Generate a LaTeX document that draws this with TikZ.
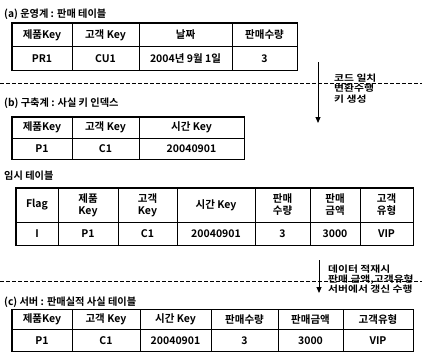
\documentclass[tikz,border=0pt]{standalone}
\usepackage{fontspec}
\setmainfont{Noto Sans CJK KR}[BoldFont={Noto Sans CJK KR Bold}]
\newfontfamily\krwide{Noto Sans CJK KR Bold}[FakeStretch=1.2]
\usetikzlibrary{arrows.meta}
\newcommand\tabfnt{\bfseries\fontsize{10.5}{12}\selectfont}
\newcommand\titfnt{\bfseries\fontsize{10.2}{12}\selectfont}
\newcommand\notefnt{\krwide\fontsize{9}{10.3}\selectfont}
\begin{document}
\begin{tikzpicture}[x=1pt,y=-1pt,
  cell/.style={draw,line width=0.7pt,inner sep=0pt,align=center,font=\tabfnt},
  frame/.style={line width=1.2pt},
  title/.style={anchor=west,inner sep=0pt,font=\titfnt},
  note/.style={anchor=west,inner sep=0pt,align=left,font=\notefnt},
  sep/.style={line width=0.8pt,dash pattern=on 3.5pt off 2.5pt},
  flow/.style={line width=1pt,-{Triangle[length=6pt,width=5pt]}}
]
\useasboundingbox[fill=white] (0,0) rectangle (422,356);

% (a)
\node[title] (ta) at (4,14) {(a) 운영계 : 판매 테이블};
\begin{scope}[every node/.append style={minimum height=23.5}]
\node[cell,minimum width=60] (a11) at (42,35) {제품Key};
\node[cell,minimum width=67] (a12) at (105.5,35) {고객 Key};
\node[cell,minimum width=93] (a13) at (185.5,35) {날짜};
\node[cell,minimum width=65] (a14) at (264.5,35) {판매수량};
\node[cell,minimum width=60] (a21) at (42,58.5) {PR1};
\node[cell,minimum width=67] (a22) at (105.5,58.5) {CU1};
\node[cell,minimum width=93] (a23) at (185.5,58.5) {2004년 9월 1일};
\node[cell,minimum width=65] (a24) at (264.5,58.5) {3};
\end{scope}
\draw[frame] (a11.north west) rectangle (a24.south east);

% separator 1 + arrow
\coordinate (s1l) at (0,83);
\coordinate (s1r) at (422,83);
\draw[sep] (s1l) -- (s1r);
\coordinate (f1s) at (318,62);
\coordinate (f1e) at (318,123);
\draw[flow] (f1s) -- (f1e);
\node[note] (n1) at (334,88.5) {코드 일치\\변환수행\\키 생성};

% (b)
\node[title] (tb) at (4,103) {(b) 구축계 : 사실 키 인덱스};
\begin{scope}[every node/.append style={minimum height=21}]
\node[cell,minimum width=60] (b11) at (42,127.5) {제품Key};
\node[cell,minimum width=67] (b12) at (105.5,127.5) {고객 Key};
\node[cell,minimum width=105] (b13) at (191.5,127.5) {시간 Key};
\node[cell,minimum width=60] (b21) at (42,148.5) {P1};
\node[cell,minimum width=67] (b22) at (105.5,148.5) {C1};
\node[cell,minimum width=105] (b23) at (191.5,148.5) {20040901};
\end{scope}
\draw[frame] (b11.north west) rectangle (b23.south east);

% temp table
\node[title] (tt) at (4,176) {임시 테이블};
\begin{scope}[every node/.append style={minimum height=34}]
\node[cell,minimum width=42] (t11) at (37,205) {Flag};
\node[cell,minimum width=60] (t12) at (88,205) {제품\\Key};
\node[cell,minimum width=59] (t13) at (147.5,205) {고객\\Key};
\node[cell,minimum width=78] (t14) at (216,205) {시간 Key};
\node[cell,minimum width=55] (t15) at (282.5,205) {판매\\수량};
\node[cell,minimum width=50] (t16) at (335,205) {판매\\금액};
\node[cell,minimum width=53] (t17) at (386.5,205) {고객\\유형};
\end{scope}
\begin{scope}[every node/.append style={minimum height=23}]
\node[cell,minimum width=42] (t21) at (37,233.5) {I};
\node[cell,minimum width=60] (t22) at (88,233.5) {P1};
\node[cell,minimum width=59] (t23) at (147.5,233.5) {C1};
\node[cell,minimum width=78] (t24) at (216,233.5) {20040901};
\node[cell,minimum width=55] (t25) at (282.5,233.5) {3};
\node[cell,minimum width=50] (t26) at (335,233.5) {3000};
\node[cell,minimum width=53] (t27) at (386.5,233.5) {VIP};
\end{scope}
\draw[frame] (t11.north west) rectangle (t27.south east);

% separator 2 + arrow
\coordinate (s2l) at (0,281);
\coordinate (s2r) at (422,281);
\draw[sep] (s2l) -- (s2r);
\coordinate (f2s) at (319,260);
\coordinate (f2e) at (319,293);
\draw[flow] (f2s) -- (f2e);
\node[note] (n2) at (328,279) {데이터 적재시\\판매 금액,고객유형\\서버에서 갱신 수행};

% (c)
\node[title] (tc) at (4,302) {(c) 서버 : 판매실적 사실 테이블};
\begin{scope}[every node/.append style={minimum height=20}]
\node[cell,minimum width=60] (c11) at (42,319.5) {제품Key};
\node[cell,minimum width=68] (c12) at (106,319.5) {고객 Key};
\node[cell,minimum width=71] (c13) at (175.5,319.5) {시간 Key};
\node[cell,minimum width=67] (c14) at (244.5,319.5) {판매수량};
\node[cell,minimum width=65] (c15) at (310.5,319.5) {판매금액};
\node[cell,minimum width=70] (c16) at (378,319.5) {고객유형};
\end{scope}
\begin{scope}[every node/.append style={minimum height=22}]
\node[cell,minimum width=60] (c21) at (42,340.5) {P1};
\node[cell,minimum width=68] (c22) at (106,340.5) {C1};
\node[cell,minimum width=71] (c23) at (175.5,340.5) {20040901};
\node[cell,minimum width=67] (c24) at (244.5,340.5) {3};
\node[cell,minimum width=65] (c25) at (310.5,340.5) {3000};
\node[cell,minimum width=70] (c26) at (378,340.5) {VIP};
\end{scope}
\draw[frame] (c11.north west) rectangle (c26.south east);
\end{tikzpicture}
\end{document}
